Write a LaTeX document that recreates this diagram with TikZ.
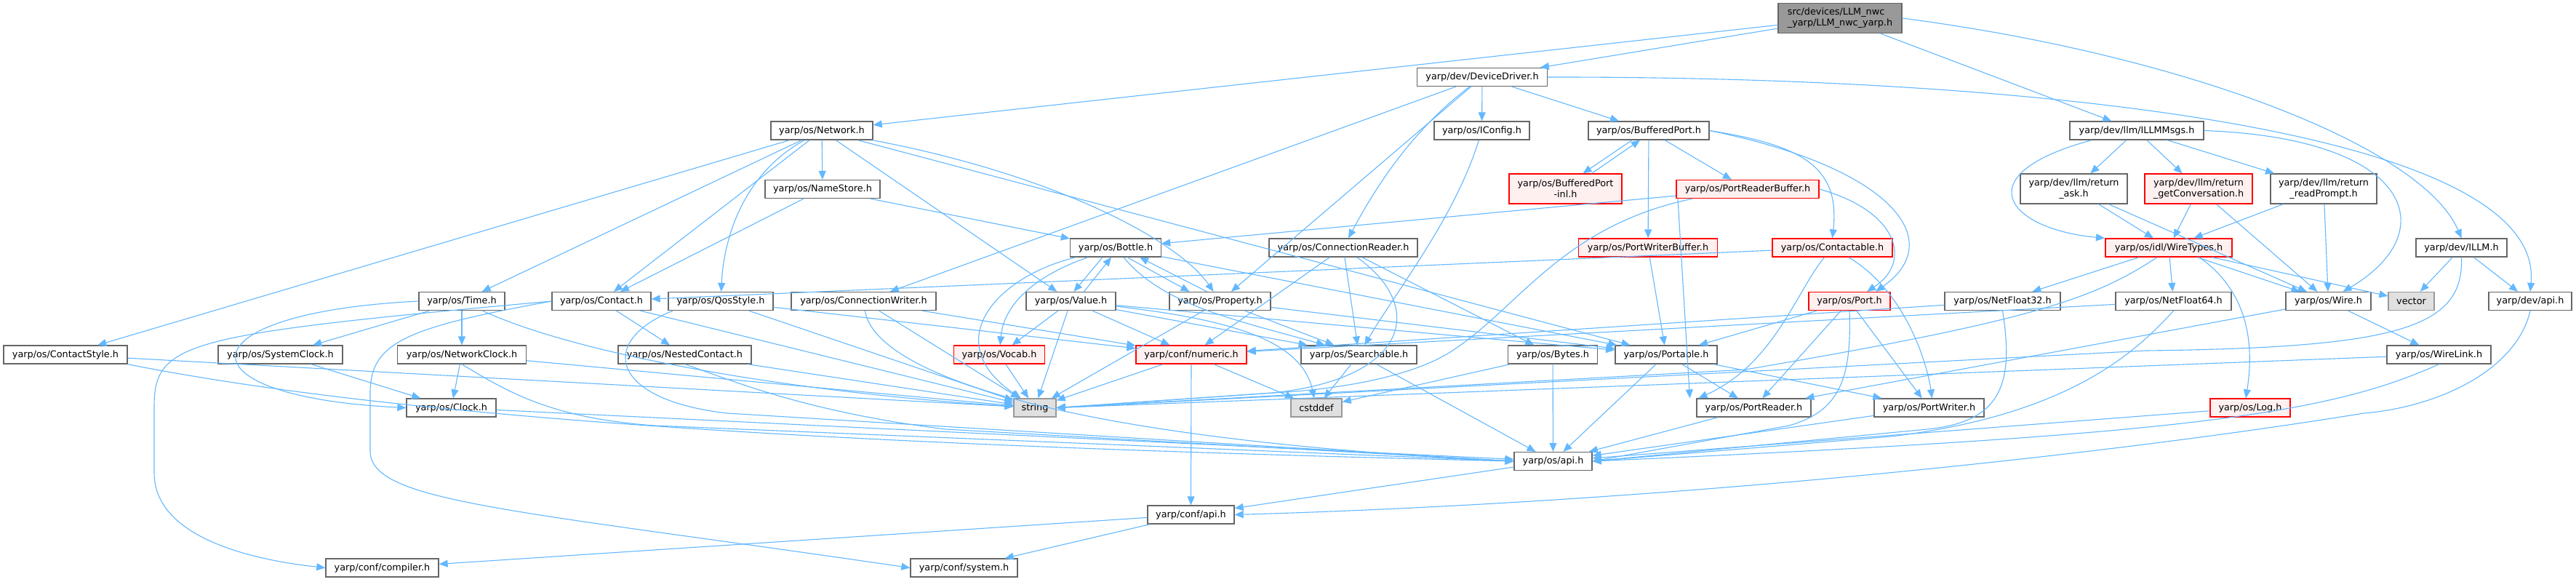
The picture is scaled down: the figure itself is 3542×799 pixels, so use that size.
\documentclass[tikz,border=0pt]{standalone}
\usepackage{fontspec}
\setmainfont{DejaVu Sans}
\usetikzlibrary{arrows.meta}
\definecolor{edgec}{HTML}{63B8FF}
\definecolor{bord}{HTML}{666666}
\definecolor{redfill}{HTML}{FFF0F0}
\definecolor{grayfill}{HTML}{E0E0E0}
\definecolor{grayb}{HTML}{999999}
\definecolor{rootfill}{HTML}{999999}
\begin{document}
\begin{tikzpicture}[x=0.5pt,y=-0.5pt,
 box/.style={draw=bord,fill=white,line width=0.65pt,inner sep=0pt,minimum height=12.5pt,font=\fontsize{6.4pt}{7.5pt}\selectfont,align=center,text=black},
 redbox/.style={box,draw=red,fill=redfill},
 graybox/.style={box,draw=grayb,fill=grayfill},
 rootbox/.style={box,fill=rootfill},
 tall/.style={minimum height=20.5pt},
 dep/.style={draw=edgec,line width=0.55pt,-{Triangle[length=6pt,width=5pt]}}]
\path[fill=white] (0,0) rectangle (3542,799);
\useasboundingbox (0,0) rectangle (3542,799);
% nodes
\node[rootbox,tall,minimum width=85pt,align=left] (root) at (2530,25) {src/devices/LLM\_nwc\\\_yarp/LLM\_nwc\_yarp.h};
\node[box,minimum width=70pt] (net) at (1130,179.5) {yarp/os/Network.h};
\node[box,minimum width=89.5pt] (dd) at (2038,106) {yarp/dev/DeviceDriver.h};
\node[box,minimum width=92pt] (msgs) at (2938,179.5) {yarp/dev/llm/ILLMMsgs.h};
\node[box,minimum width=62.5pt] (illm) at (3384.5,340.5) {yarp/dev/ILLM.h};
\node[box,minimum width=85pt] (cstyle) at (90,487.5) {yarp/os/ContactStyle.h};
\node[box,minimum width=59pt] (time) at (635,414) {yarp/os/Time.h};
\node[box,minimum width=68pt] (contact) at (827,414) {yarp/os/Contact.h};
\node[box,minimum width=72pt] (qos) at (991,414) {yarp/os/QosStyle.h};
\node[box,minimum width=79pt] (names) at (1131,260) {yarp/os/NameStore.h};
\node[box,minimum width=61.5pt] (value) at (1472.5,414) {yarp/os/Value.h};
\node[box,minimum width=69.5pt] (prop) at (1677.5,414) {yarp/os/Property.h};
\node[box,minimum width=70pt] (portable) at (2291,487.5) {yarp/os/Portable.h};
\node[box,minimum width=99.5pt] (cwriter) at (1187.5,414) {yarp/os/ConnectionWriter.h};
\node[box,minimum width=102pt] (creader) at (1847,340.5) {yarp/os/ConnectionReader.h};
\node[box,minimum width=65.5pt] (iconfig) at (2037.5,179.5) {yarp/os/IConfig.h};
\node[box,minimum width=83pt] (bport) at (2267,179.5) {yarp/os/BufferedPort.h};
\node[redbox,tall,minimum width=77.5pt] (bportinl) at (2152.5,259.5) {yarp/os/BufferedPort\\-inl.h};
\node[redbox,minimum width=98pt] (prb) at (2403,260) {yarp/os/PortReaderBuffer.h};
\node[redbox,minimum width=95.5pt] (pwb) at (2266,340.5) {yarp/os/PortWriterBuffer.h};
\node[redbox,minimum width=82.5pt] (ctable) at (2519.5,340.5) {yarp/os/Contactable.h};
\node[redbox,minimum width=56pt] (port) at (2543,414) {yarp/os/Port.h};
\node[box,minimum width=62.5pt] (bottle) at (1534,340.5) {yarp/os/Bottle.h};
\node[box,minimum width=85.5pt] (sysclock) at (385.5,487.5) {yarp/os/SystemClock.h};
\node[box,minimum width=88.5pt] (netclock) at (635,487.5) {yarp/os/NetworkClock.h};
\node[box,minimum width=91.5pt] (nested) at (941.5,487.5) {yarp/os/NestedContact.h};
\node[box,minimum width=61.5pt] (clock) at (620.5,560.5) {yarp/os/Clock.h};
\node[box,minimum width=77.5pt] (compiler) at (525.5,780.5) {yarp/conf/compiler.h};
\node[redbox,minimum width=62.5pt] (vocab) at (1374,487.5) {yarp/os/Vocab.h};
\node[redbox,minimum width=76pt] (numeric) at (1638,487.5) {yarp/conf/numeric.h};
\node[graybox,minimum width=29pt] (string) at (1423,560.5) {string};
\node[graybox,minimum width=35pt] (cstddef) at (1810,560.5) {cstddef};
\node[box,minimum width=59.5pt] (confapi) at (1637.5,707.5) {yarp/conf/api.h};
\node[box,minimum width=73.5pt] (system) at (1325.5,780.5) {yarp/conf/system.h};
\node[box,minimum width=79.5pt] (search) at (1868.5,487.5) {yarp/os/Searchable.h};
\node[box,minimum width=61.5pt] (bytes) at (2135,487.5) {yarp/os/Bytes.h};
\node[box,minimum width=53.5pt] (osapi) at (2135.5,634) {yarp/os/api.h};
\node[box,minimum width=78.5pt] (preader) at (2411.5,560.5) {yarp/os/PortReader.h};
\node[box,minimum width=75.5pt] (pwriter) at (2652.5,560.5) {yarp/os/PortWriter.h};
\node[box,tall,minimum width=73.5pt] (ask) at (2851.5,259.5) {yarp/dev/llm/return\\\_ask.h};
\node[redbox,tall,minimum width=74pt] (getconv) at (3023,259.5) {yarp/dev/llm/return\\\_getConversation.h};
\node[redbox,minimum width=87pt] (wtypes) at (2982,340.5) {yarp/os/idl/WireTypes.h};
\node[box,minimum width=79.5pt] (nf32) at (2753.5,414) {yarp/os/NetFloat32.h};
\node[box,minimum width=79.5pt] (nf64) at (2988.5,414) {yarp/os/NetFloat64.h};
\node[box,tall,minimum width=73pt] (rprompt) at (3195,259.5) {yarp/dev/llm/return\\\_readPrompt.h};
\node[box,minimum width=58.5pt] (wire) at (3201.5,414) {yarp/os/Wire.h};
\node[graybox,minimum width=31.5pt] (vector) at (3315.5,414) {vector};
\node[box,minimum width=57pt] (devapi) at (3479,414) {yarp/dev/api.h};
\node[box,minimum width=71.5pt] (wlink) at (3353.5,487.5) {yarp/os/WireLink.h};
\node[redbox,minimum width=55pt] (log) at (3094,560.5) {yarp/os/Log.h};
% edges
\draw[dep] (root) -- (net);
\draw[dep] (root) -- (dd);
\draw[dep] (root) -- (msgs);
\draw[dep] (root.east) .. controls (3000,75) and (3330,200) .. (illm.north);
\draw[dep] (net) -- (cstyle);
\draw[dep] (net) -- (time);
\draw[dep] (net) -- (contact);
\draw[dep] (net) .. controls (1020,240) and (995,330) .. (qos);
\draw[dep] (net) -- (names);
\draw[dep] (net) -- (value);
\draw[dep] (net) .. controls (1450,240) and (1620,330) .. (prop);
\draw[dep] (net) -- (portable);
\draw[dep] (names) -- (contact);
\draw[dep] (names) -- (bottle);
\draw[dep] (dd) -- (iconfig);
\draw[dep] (dd) -- (bport);
\draw[dep] (dd) -- (cwriter);
\draw[dep] (dd) -- (prop);
\draw[dep] (dd) .. controls (1940,180) and (1890,260) .. (creader);
\draw[dep] (dd.east) .. controls (2800,105) and (3500,180) .. (devapi.north);
\draw[dep] ([xshift=-31pt]msgs.south) .. controls (2700,240) and (2760,315) .. ([xshift=-44pt]wtypes.north);
\draw[dep] (msgs) -- (ask);
\draw[dep] (msgs) -- (getconv);
\draw[dep] (msgs) -- (rprompt);
\draw[dep] (msgs.east) .. controls (3320,190) and (3360,320) .. ([xshift=10pt]wire.north);
\draw[dep] (ask) -- (wtypes);
\draw[dep] (ask) -- (wire);
\draw[dep] (getconv) -- (wtypes);
\draw[dep] (getconv) -- (wire);
\draw[dep] (rprompt) -- (wtypes);
\draw[dep] (rprompt) -- (wire);
\draw[dep] (wtypes) -- (nf32);
\draw[dep] (wtypes) -- (nf64);
\draw[dep] (wtypes) -- (wire);
\draw[dep] (wtypes) -- (vector);
\draw[dep] ([xshift=21pt]wtypes.south) .. controls (3090,400) and (3100,470) .. ([xshift=-3pt]log.north);
\draw[dep] ([xshift=-8pt]wtypes.south) .. controls (2880,410) and (2800,440) .. (2400,508) -- (string.east);
\draw[dep] (illm) -- (vector);
\draw[dep] (illm) -- (devapi);
\draw[dep] (illm.south) .. controls (3388,450) and (3300,478) .. (2950,482) -- (string.east);
\draw[dep] (wire) -- (wlink);
\draw[dep] (wire) -- (preader);
\draw[dep] (wlink) -- (string.east);
\draw[dep] (wlink.south) .. controls (3200,570) and (3000,598) .. (osapi.east);
\draw[dep] (log) -- (osapi);
\draw[dep] (nf32) -- (numeric);
\draw[dep] (nf32.south) .. controls (2770,530) and (2750,580) .. (2650,590) -- (osapi.east);
\draw[dep] (nf64) -- (numeric);
\draw[dep] (nf64.south) .. controls (2940,480) and (2850,570) .. (2600,600) -- (osapi.east);
\draw[dep] (devapi.south) .. controls (3460,510) and (3350,560) .. (3250,568) .. controls (2900,625) and (2300,690) .. (confapi.east);
\draw[dep] ([xshift=-11.5pt]bport.south) -- ([xshift=12pt]bportinl.north);
\draw[dep] ([xshift=18pt]bportinl.north) -- ([xshift=-6pt]bport.south);
\draw[dep] (bport) -- (prb);
\draw[dep] (bport) -- (pwb);
\draw[dep] (bport.east) .. controls (2480,200) and (2530,230) .. (ctable.north);
\draw[dep] (bport.east) .. controls (2600,230) and (2680,330) .. ([xshift=18pt]port.north);
\draw[dep] (prb) -- (bottle);
\draw[dep] (prb.east) .. controls (2610,290) and (2630,360) .. ([xshift=12pt]port.north);
\draw[dep] ([xshift=-48pt]prb.south) -- ([xshift=-44pt]preader.north);
\draw[dep] ([xshift=-38pt]prb.south) .. controls (2150,310) and (2090,420) .. (2000,480) .. controls (1950,515) and (1850,535) .. (1750,540) -- (string.east);
\draw[dep] (pwb) -- (portable);
\draw[dep] (ctable) -- (contact);
\draw[dep] (ctable) .. controls (2470,400) and (2440,500) .. ([xshift=-38pt]preader.north);
\draw[dep] (ctable) .. controls (2620,400) and (2650,500) .. ([xshift=2pt]pwriter.north);
\draw[dep] (port) -- (portable);
\draw[dep] (port) -- (preader);
\draw[dep] (port) -- (pwriter);
\draw[dep] (port.south) .. controls (2546,520) and (2530,565) .. (2460,585) -- (osapi.east);
\draw[dep] (portable) -- (osapi);
\draw[dep] (portable) -- (preader);
\draw[dep] (portable) -- (pwriter);
\draw[dep] (preader) -- (osapi);
\draw[dep] (pwriter) -- (osapi);
\draw[dep] (iconfig) .. controls (2000,300) and (1920,400) .. (search);
\draw[dep] (creader) -- (search);
\draw[dep] (creader) -- (numeric);
\draw[dep] (creader) -- (bytes);
\draw[dep] (creader) .. controls (1960,420) and (1940,520) .. (1750,540) -- (string.east);
\draw[dep] (cwriter) -- (numeric);
\draw[dep] (cwriter) -- (string);
\draw[dep] (cwriter) .. controls (1200,500) and (1400,600) .. (osapi.west);
\draw[dep] ([xshift=-9pt]bottle.south) -- ([xshift=2pt]value.north);
\draw[dep] ([xshift=9pt]value.north) -- ([xshift=-3pt]bottle.south);
\draw[dep] ([xshift=8pt]bottle.south) -- ([xshift=-21pt]prop.north);
\draw[dep] ([xshift=-9pt]prop.north) -- ([xshift=16.5pt]bottle.south);
\draw[dep] (bottle) -- (portable);
\draw[dep] (bottle) .. controls (1600,420) and (1700,440) .. (search);
\draw[dep] (bottle) .. controls (1370,380) and (1290,470) .. (string);
\draw[dep] (bottle) .. controls (1420,380) and (1380,420) .. (vocab);
\draw[dep] (value) -- (vocab);
\draw[dep] (value) -- (string);
\draw[dep] (value) -- (numeric);
\draw[dep] (value) -- (search);
\draw[dep] (value) -- (portable);
\draw[dep] (value) .. controls (1700,440) and (1790,470) .. (cstddef);
\draw[dep] (prop) -- (string);
\draw[dep] (prop) -- (search);
\draw[dep] (prop) -- (portable);
\draw[dep] (vocab) -- (string);
\draw[dep] (numeric) -- (string);
\draw[dep] (numeric) -- (cstddef);
\draw[dep] (numeric) -- (confapi);
\draw[dep] (search) -- (cstddef);
\draw[dep] (search) -- (osapi);
\draw[dep] (bytes) -- (cstddef);
\draw[dep] (bytes) -- (osapi);
\draw[dep] (osapi) -- (confapi);
\draw[dep] (confapi) -- (compiler);
\draw[dep] (confapi) -- (system);
\draw[dep] (contact.west) .. controls (250,460) and (212,470) .. (212,560) -- (212,650) .. controls (212,740) and (350,770) .. (compiler.west);
\draw[dep] (contact.west) .. controls (560,450) and (509,470) .. (509,540) -- (509,620) .. controls (509,690) and (700,700) .. (system.west);
\draw[dep] (contact) -- (nested);
\draw[dep] (contact) -- (string);
\draw[dep] ([xshift=-33pt]qos.south) .. controls (820,470) and (840,550) .. (1000,568) -- (osapi.west);
\draw[dep] (qos) -- (string);
\draw[dep] (qos) -- (numeric);
\draw[dep] (nested) -- (string);
\draw[dep] (nested.south) .. controls (1000,520) and (1100,565) .. (1300,590) -- (osapi.west);
\draw[dep] (time) -- (sysclock);
\draw[dep] (time) -- (netclock);
\draw[dep] (time.west) .. controls (250,430) and (240,545) .. (clock.west);
\draw[dep] (time) .. controls (800,490) and (1100,540) .. (string);
\draw[dep] (sysclock) -- (clock);
\draw[dep] (netclock) -- (clock);
\draw[dep] (netclock) -- (string);
\draw[dep] (netclock.south) .. controls (700,540) and (760,575) .. (900,585) -- (osapi.west);
\draw[dep] (clock) -- (osapi);
\draw[dep] (cstyle) -- (string);
\draw[dep] (cstyle.south east) .. controls (600,585) and (1300,615) .. (osapi.west);
\end{tikzpicture}
\end{document}
